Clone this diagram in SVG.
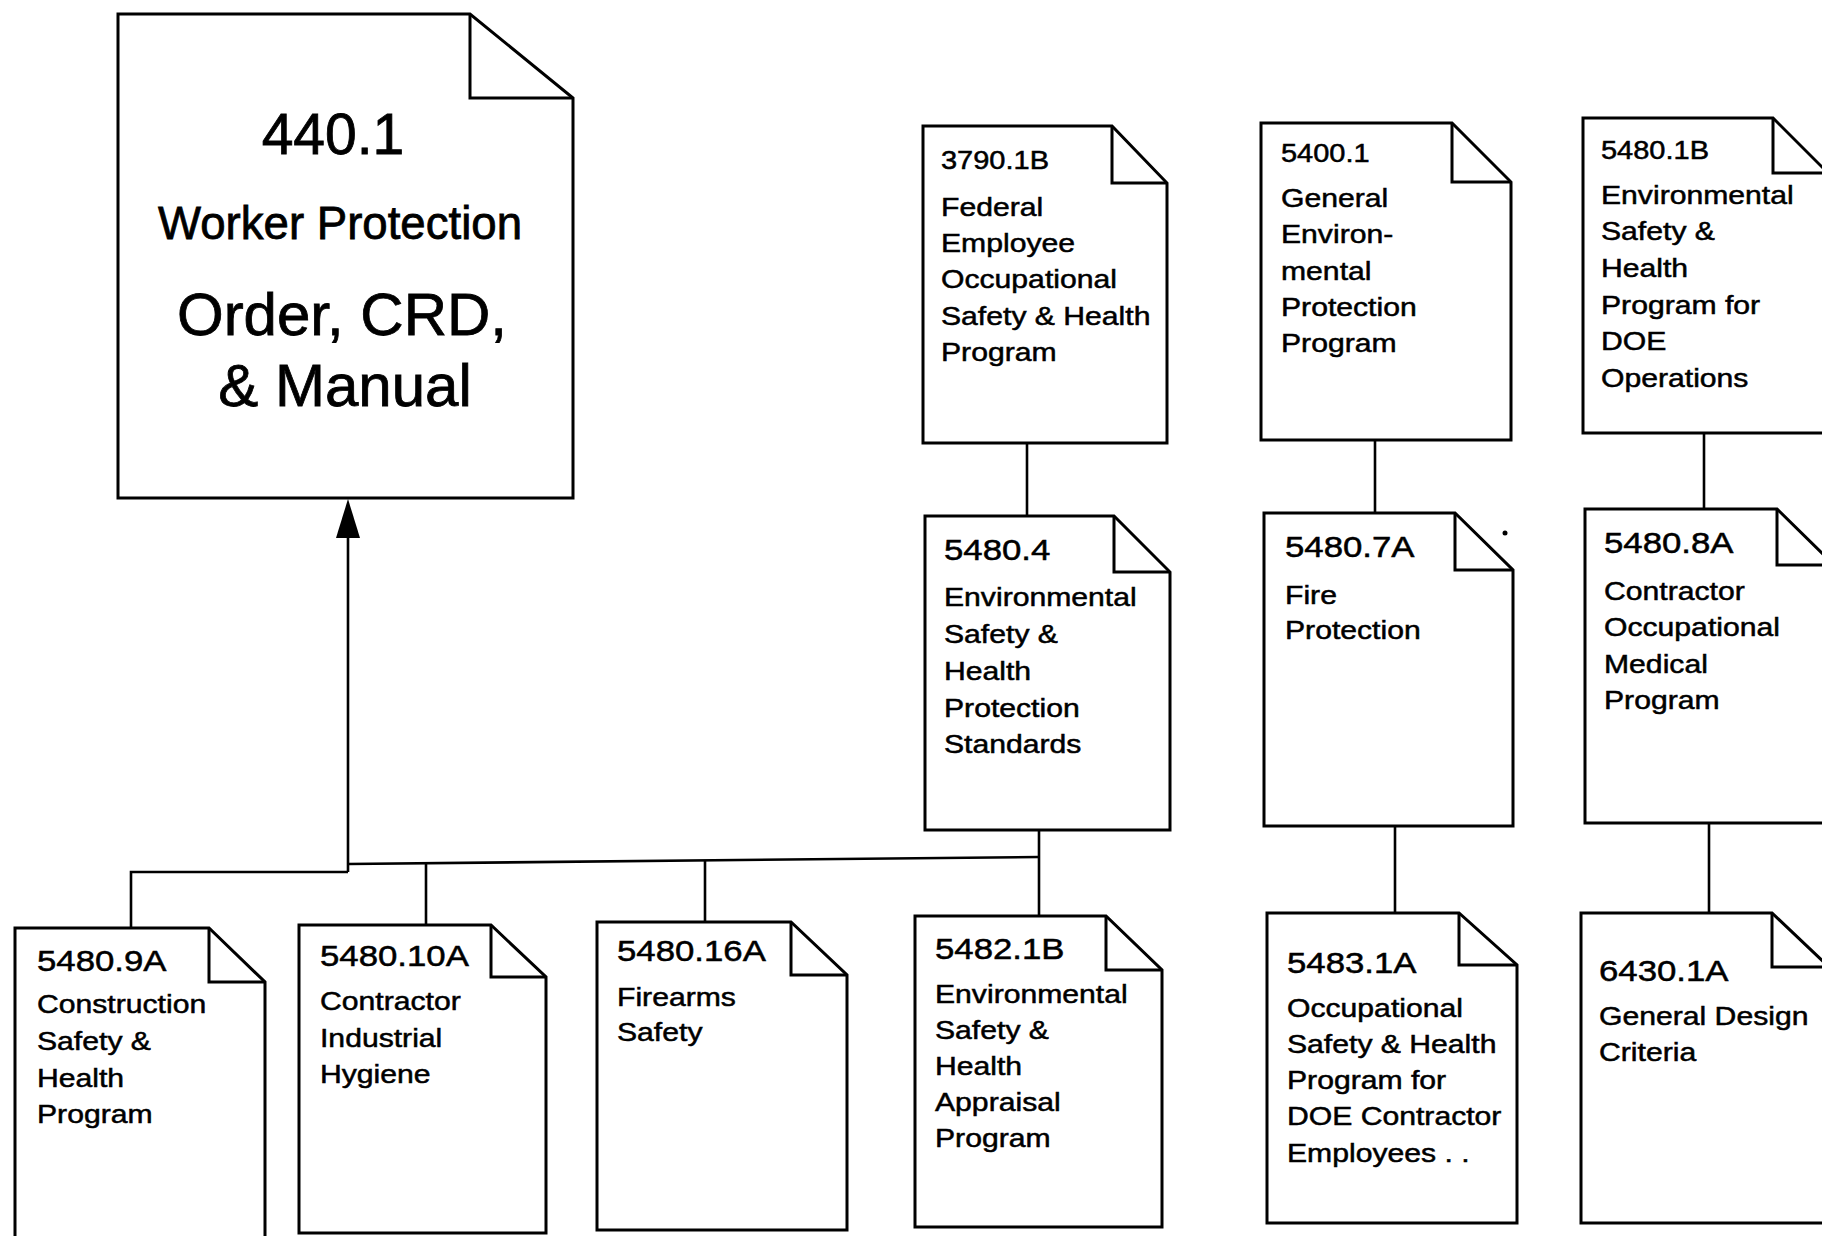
<svg xmlns="http://www.w3.org/2000/svg" width="1822" height="1236" viewBox="0 0 1822 1236">
<style>
.doc{fill:#fff;stroke:#000;stroke-width:3;stroke-linejoin:miter}
.fold{fill:none;stroke:#000;stroke-width:3}
.con{fill:none;stroke:#000;stroke-width:2.6}
text{font-family:"Liberation Sans",Arial,Helvetica,sans-serif;fill:#000;stroke:#000;stroke-width:0.5}
.b{font-size:26px}
.n{font-size:30px}
.nt{font-size:25px}
.big{font-size:60px;text-anchor:middle;stroke-width:0.8}
</style>
<rect width="1822" height="1236" fill="#fff"/>
<g id="connectors">
  <line class="con" x1="348" y1="872" x2="348" y2="530"/>
  <polygon points="348,499 336,538 360,538" fill="#000"/>
  <polyline class="con" points="131,927 131,872 348,872"/>
  <line class="con" x1="348" y1="864" x2="1039" y2="857"/>
  <line class="con" x1="426" y1="863" x2="426" y2="925"/>
  <line class="con" x1="705" y1="860" x2="705" y2="922"/>
  <line class="con" x1="1039" y1="830" x2="1039" y2="916"/>
  <line class="con" x1="1027" y1="443" x2="1027" y2="516"/>
  <line class="con" x1="1375" y1="440" x2="1375" y2="513"/>
  <line class="con" x1="1395" y1="826" x2="1395" y2="913"/>
  <line class="con" x1="1704" y1="433" x2="1704" y2="509"/>
  <line class="con" x1="1709" y1="823" x2="1709" y2="913"/>
</g>
<g id="n4401">
  <path class="doc" d="M118,14 L470,14 L573,98 L573,498 L118,498 Z"/>
  <path class="fold" d="M470,14 L470,98 L573,98"/>
  <text class="big" x="333" y="154" style="font-size:57px">440.1</text>
  <text class="big" x="340" y="239" style="font-size:47px" textLength="364" lengthAdjust="spacingAndGlyphs">Worker Protection</text>
  <text class="big" x="342" y="335">Order, CRD,</text>
  <text class="big" x="345" y="406">&amp; Manual</text>
</g>
<g id="n37901B">
  <path class="doc" d="M923,126 L1112,126 L1167,183 L1167,443 L923,443 Z"/>
  <path class="fold" d="M1112,126 L1112,183 L1167,183"/>
  <g transform="translate(941 0) scale(1.16 1)">
    <text class="nt" x="0" y="169">3790.1B</text>
    <text class="b" x="0" y="216">Federal</text>
    <text class="b" x="0" y="252">Employee</text>
    <text class="b" x="0" y="288">Occupational</text>
    <text class="b" x="0" y="325">Safety &amp; Health</text>
    <text class="b" x="0" y="361">Program</text>
  </g>
</g>
<g id="n54001">
  <path class="doc" d="M1261,123 L1452,123 L1511,182 L1511,440 L1261,440 Z"/>
  <path class="fold" d="M1452,123 L1452,182 L1511,182"/>
  <g transform="translate(1281 0) scale(1.16 1)">
    <text class="nt" x="0" y="162">5400.1</text>
    <text class="b" x="0" y="207">General</text>
    <text class="b" x="0" y="243">Environ-</text>
    <text class="b" x="0" y="280">mental</text>
    <text class="b" x="0" y="316">Protection</text>
    <text class="b" x="0" y="352">Program</text>
  </g>
</g>
<g id="n54801B">
  <path class="doc" d="M1583,118 L1773,118 L1830,175 L1830,433 L1583,433 Z"/>
  <path class="fold" d="M1773,118 L1773,173 L1830,173"/>
  <g transform="translate(1601 0) scale(1.16 1)">
    <text class="nt" x="0" y="159">5480.1B</text>
    <text class="b" x="0" y="204">Environmental</text>
    <text class="b" x="0" y="240">Safety &amp;</text>
    <text class="b" x="0" y="277">Health</text>
    <text class="b" x="0" y="314">Program for</text>
    <text class="b" x="0" y="350">DOE</text>
    <text class="b" x="0" y="387">Operations</text>
  </g>
</g>
<g id="n54804">
  <path class="doc" d="M925,516 L1114,516 L1170,572 L1170,830 L925,830 Z"/>
  <path class="fold" d="M1114,516 L1114,572 L1170,572"/>
  <g transform="translate(944 0) scale(1.16 1)">
    <text class="n" x="0" y="560">5480.4</text>
    <text class="b" x="0" y="606">Environmental</text>
    <text class="b" x="0" y="643">Safety &amp;</text>
    <text class="b" x="0" y="680">Health</text>
    <text class="b" x="0" y="717">Protection</text>
    <text class="b" x="0" y="753">Standards</text>
  </g>
</g>
<g id="n54807A">
  <path class="doc" d="M1264,513 L1455,513 L1513,570 L1513,826 L1264,826 Z"/>
  <path class="fold" d="M1455,513 L1455,570 L1513,570"/>
  <circle cx="1505" cy="533" r="2.5" fill="#000"/>
  <g transform="translate(1285 0) scale(1.16 1)">
    <text class="n" x="0" y="557">5480.7A</text>
    <text class="b" x="0" y="604">Fire</text>
    <text class="b" x="0" y="639">Protection</text>
  </g>
</g>
<g id="n54808A">
  <path class="doc" d="M1585,509 L1777,509 L1834,565 L1834,823 L1585,823 Z"/>
  <path class="fold" d="M1777,509 L1777,565 L1834,565"/>
  <g transform="translate(1604 0) scale(1.16 1)">
    <text class="n" x="0" y="553">5480.8A</text>
    <text class="b" x="0" y="600">Contractor</text>
    <text class="b" x="0" y="636">Occupational</text>
    <text class="b" x="0" y="673">Medical</text>
    <text class="b" x="0" y="709">Program</text>
  </g>
</g>
<g id="n54809A">
  <path class="doc" d="M15,928 L209,928 L265,982 L265,1250 L15,1250 Z"/>
  <path class="fold" d="M209,928 L209,982 L265,982"/>
  <g transform="translate(37 0) scale(1.16 1)">
    <text class="n" x="0" y="971">5480.9A</text>
    <text class="b" x="0" y="1013">Construction</text>
    <text class="b" x="0" y="1050">Safety &amp;</text>
    <text class="b" x="0" y="1087">Health</text>
    <text class="b" x="0" y="1123">Program</text>
  </g>
</g>
<g id="n548010A">
  <path class="doc" d="M299,925 L491,925 L546,977 L546,1233 L299,1233 Z"/>
  <path class="fold" d="M491,925 L491,977 L546,977"/>
  <g transform="translate(320 0) scale(1.16 1)">
    <text class="n" x="0" y="966">5480.10A</text>
    <text class="b" x="0" y="1010">Contractor</text>
    <text class="b" x="0" y="1047">Industrial</text>
    <text class="b" x="0" y="1083">Hygiene</text>
  </g>
</g>
<g id="n548016A">
  <path class="doc" d="M597,922 L791,922 L847,975 L847,1230 L597,1230 Z"/>
  <path class="fold" d="M791,922 L791,975 L847,975"/>
  <g transform="translate(617 0) scale(1.16 1)">
    <text class="n" x="0" y="961">5480.16A</text>
    <text class="b" x="0" y="1006">Firearms</text>
    <text class="b" x="0" y="1041">Safety</text>
  </g>
</g>
<g id="n54821B">
  <path class="doc" d="M915,916 L1106,916 L1162,970 L1162,1227 L915,1227 Z"/>
  <path class="fold" d="M1106,916 L1106,970 L1162,970"/>
  <g transform="translate(935 0) scale(1.16 1)">
    <text class="n" x="0" y="959">5482.1B</text>
    <text class="b" x="0" y="1003">Environmental</text>
    <text class="b" x="0" y="1039">Safety &amp;</text>
    <text class="b" x="0" y="1075">Health</text>
    <text class="b" x="0" y="1111">Appraisal</text>
    <text class="b" x="0" y="1147">Program</text>
  </g>
</g>
<g id="n54831A">
  <path class="doc" d="M1267,913 L1459,913 L1517,965 L1517,1223 L1267,1223 Z"/>
  <path class="fold" d="M1459,913 L1459,965 L1517,965"/>
  <g transform="translate(1287 0) scale(1.16 1)">
    <text class="n" x="0" y="973">5483.1A</text>
    <text class="b" x="0" y="1017">Occupational</text>
    <text class="b" x="0" y="1053">Safety &amp; Health</text>
    <text class="b" x="0" y="1089">Program for</text>
    <text class="b" x="0" y="1125">DOE Contractor</text>
    <text class="b" x="0" y="1162">Employees . .</text>
  </g>
</g>
<g id="n64301A">
  <path class="doc" d="M1581,913 L1772,913 L1829,967 L1829,1223 L1581,1223 Z"/>
  <path class="fold" d="M1772,913 L1772,967 L1829,967"/>
  <g transform="translate(1599 0) scale(1.16 1)">
    <text class="n" x="0" y="981">6430.1A</text>
    <text class="b" x="0" y="1025">General Design</text>
    <text class="b" x="0" y="1061">Criteria</text>
  </g>
</g>
</svg>
